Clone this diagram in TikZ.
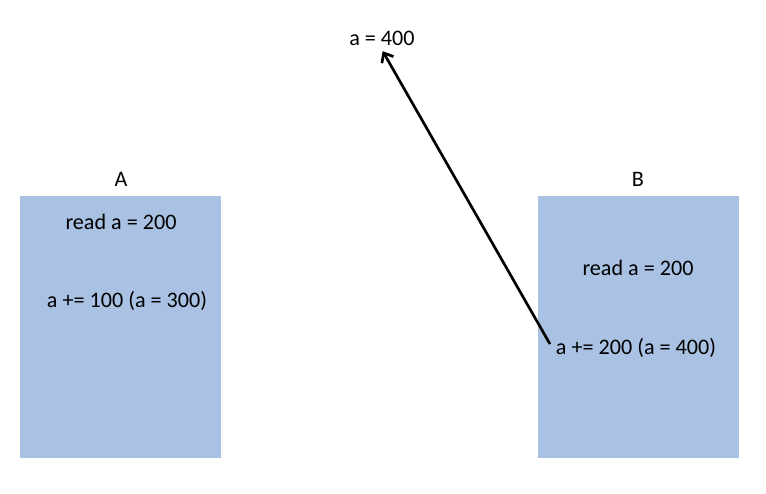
\documentclass[tikz,border=0pt]{standalone}
\usepackage{fontspec}
\setmainfont{Carlito}
\usetikzlibrary{positioning, arrows.meta}
\definecolor{procblue}{HTML}{A9C1E2}

\begin{document}
\begin{tikzpicture}[
        x=0.75pt, y=-0.75pt,
        >={Straight Barb[length=6pt,width=10pt]},
        proc/.style={
            fill=procblue,
            draw=none,
            minimum width=150.75pt,
            minimum height=196.5pt,
            inner sep=0pt
        },
        arr/.style={
            ->,
            line width=2pt,
            shorten >=1pt
        },
        every node/.style={font=\fontsize{16.6}{19}\selectfont}
    ]

        \useasboundingbox (0,0) rectangle (766,493);

        \node[proc] (procA) at (120.5,327) {};
        \node[proc] (procB) at (638.5,327) {};

        \node (labelA) at (121,179) {A};
        \node (labelB) at (638,179) {B};

        \node (readA) at (121,222) {read a = 200};
        \node (addA) at (127,301) {a += 100 (a = 300)};
        \node (readB) at (638,268) {read a = 200};
        \node (addB) at (636,348) {a += 200 (a = 400)};

        \node (result) at (382,38) {a = 400};

        \draw[arr] ([xshift=-1pt,yshift=3pt]addB.west) -- (result.south);

    \end{tikzpicture}
\end{document}
